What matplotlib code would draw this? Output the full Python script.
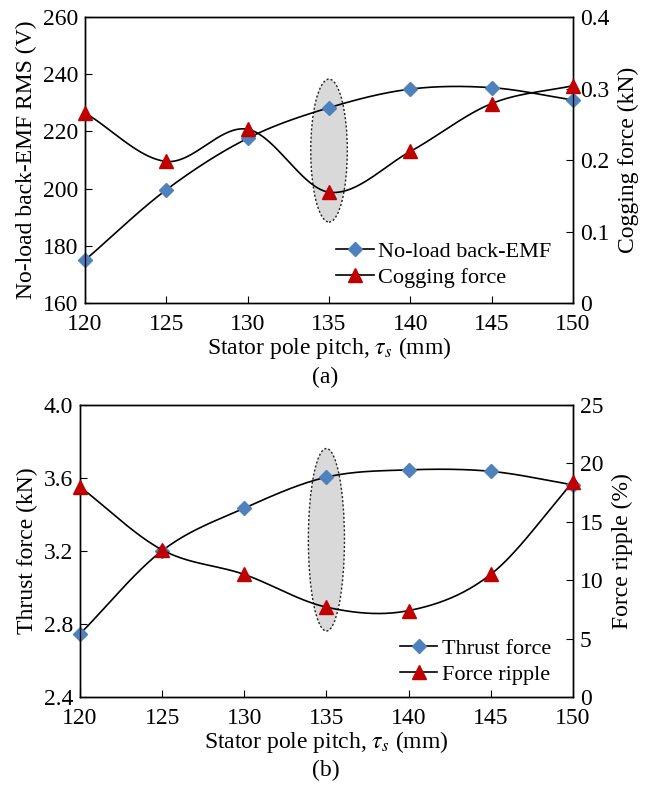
"""Back-EMF / cogging force and thrust / ripple versus stator pole pitch."""

import matplotlib
matplotlib.use("Agg")
import matplotlib.pyplot as plt
import numpy as np
from matplotlib.lines import Line2D
from matplotlib.patches import Ellipse

plt.rcParams["font.family"] = ["Liberation Serif", "DejaVu Serif"]
plt.rcParams["mathtext.fontset"] = "stix"
FS = 17

pitch = [120, 125, 130, 135, 140, 145, 150]
back_emf = [175, 199.6, 217.6, 228.3, 234.8, 235.3, 231]
cogging = [0.266, 0.198, 0.243, 0.155, 0.212, 0.279, 0.304]
thrust = [2.746, 3.202, 3.435, 3.605, 3.645, 3.637, 3.563]
ripple = [18.0, 12.6, 10.5, 7.7, 7.4, 10.5, 18.4]

BLUE = "#4f81bd"
RED = "#c00000"


def smooth(x, y, n=40):
    # catmull-rom through the points, like a spreadsheet "smoothed line"
    x = np.asarray(x, float)
    y = np.asarray(y, float)
    px = np.concatenate([[2 * x[0] - x[1]], x, [2 * x[-1] - x[-2]]])
    py = np.concatenate([[2 * y[0] - y[1]], y, [2 * y[-1] - y[-2]]])
    t = np.linspace(0, 1, n)
    xs, ys = [], []
    for i in range(1, len(px) - 2):
        for p, out in ((px, xs), (py, ys)):
            p0, p1, p2, p3 = p[i - 1], p[i], p[i + 1], p[i + 2]
            out.append(0.5 * (2 * p1 + (-p0 + p2) * t
                              + (2 * p0 - 5 * p1 + 4 * p2 - p3) * t ** 2
                              + (-p0 + 3 * p1 - 3 * p2 + p3) * t ** 3))
    return np.concatenate(xs), np.concatenate(ys)


def style(ax, right=False):
    ax.tick_params(direction="in", length=5, pad=5, top=False, labelsize=FS)
    ax.tick_params(axis="x", pad=8)
    if right:
        ax.yaxis.set_tick_params(which="both", right=True, left=False)


def panel(rect, y1, y2, lims1, ticks1, lims2, ticks2, fmt2, lab1, lab2,
          names, ell, letter, letter_y, leg_anchor):
    ax = fig.add_axes(rect)
    ax2 = ax.twinx()
    ax.add_patch(Ellipse(ell[:2], ell[2], ell[3], facecolor="#d9d9d9",
                         edgecolor="#222222", linestyle=(0, (1.5, 1.5)),
                         linewidth=1.0, zorder=1))
    sx, sy = smooth(pitch, y1)
    ax.plot(sx, sy, color="black", lw=1.2, zorder=3)
    ax.plot(pitch, y1, "D", color=BLUE, ms=7.5, zorder=4, clip_on=False)
    sx, sy = smooth(pitch, y2)
    ax2.plot(sx, sy, color="black", lw=1.2, zorder=3)
    ax2.plot(pitch, y2, "^", color=RED, ms=9.5, zorder=4, clip_on=False)

    ax.set_xlim(120, 150)
    ax.set_xticks(pitch)
    ax.set_ylim(*lims1)
    ax.set_yticks(ticks1)
    ax2.set_ylim(*lims2)
    ax2.set_yticks(ticks2)
    ax2.set_yticklabels([fmt2(v) for v in ticks2])
    if isinstance(ticks1[0], float):
        ax.set_yticklabels([f"{v:.1f}" for v in ticks1])
    style(ax)
    style(ax2, right=True)
    for a in (ax, ax2):
        for s in a.spines.values():
            s.set_linewidth(1.0)

    ax.set_ylabel(lab1, fontsize=FS, labelpad=4)
    ax2.set_ylabel(lab2, fontsize=FS, labelpad=6)
    ax.set_xlabel(r"Stator pole pitch, $\tau_s$ (mm)", fontsize=FS,
                  labelpad=0)
    fig.text(0.5, letter_y, letter, ha="center", va="center", fontsize=FS)

    handles = [
        Line2D([], [], color="black", lw=1.2, marker="D", ms=7.5,
               markerfacecolor=BLUE, markeredgecolor=BLUE),
        Line2D([], [], color="black", lw=1.2, marker="^", ms=9.5,
               markerfacecolor=RED, markeredgecolor=RED),
    ]
    ax2.legend(handles, names, loc="lower right", bbox_to_anchor=leg_anchor,
               frameon=False, fontsize=16, handlelength=1.7,
               handletextpad=0.2, labelspacing=0.25, borderaxespad=0.0)
    return ax, ax2


fig = plt.figure(figsize=(6.51, 7.85), dpi=100)

panel([0.1306, 0.614, 0.7496, 0.3643], back_emf, cogging,
      (160, 260), [160, 180, 200, 220, 240, 260],
      (0, 0.4), [0, 0.1, 0.2, 0.3, 0.4],
      lambda v: "0" if v == 0 else f"{v:.1f}",
      "No-load back-EMF RMS (V)", "Cogging force (kN)",
      ["No-load back-EMF", "Cogging force"],
      (135, 213.3, 2.25, 50), "(a)", 1 - 377 / 785, (0.974, 0.022))

panel([0.1229, 0.112, 0.757, 0.372], thrust, ripple,
      (2.4, 4.0), [2.4, 2.8, 3.2, 3.6, 4.0],
      (0, 25), [0, 5, 10, 15, 20, 25],
      lambda v: f"{v:g}",
      "Thrust force (kN)", "Force ripple (%)",
      ["Thrust force", "Force ripple"],
      (135, 3.262, 2.2, 1.0), "(b)", 1 - 770 / 785, (0.974, 0.012))

fig.savefig("out.png", dpi=100)
